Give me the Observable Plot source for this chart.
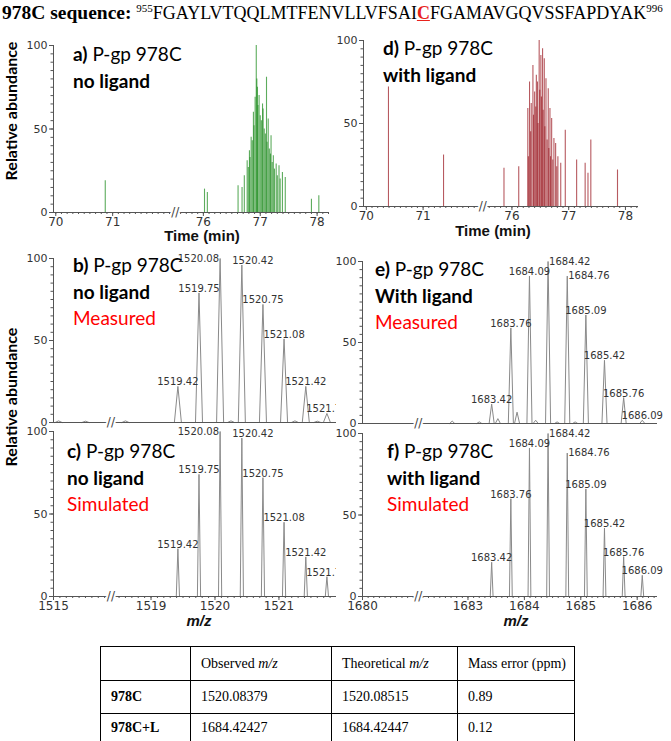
<!DOCTYPE html>
<html><head><meta charset="utf-8">
<script src="https://cdn.jsdelivr.net/npm/d3@7"></script>
<script src="https://cdn.jsdelivr.net/npm/@observablehq/plot@0.6"></script>
<style>
body{margin:0;background:#fff;}
#root{position:relative;width:671px;height:741px;overflow:hidden;background:#fff;}
.lbl{position:absolute;font-family:Lato,sans-serif;font-size:19px;line-height:26.5px;color:#000;white-space:nowrap;}
.red{color:#ff0000;}
.ylab{position:absolute;font-family:Lato,sans-serif;font-weight:bold;font-size:16px;white-space:nowrap;transform:translate(-50%,-50%) rotate(-90deg);}
#title{position:absolute;left:2px;top:2px;font-family:"Liberation Serif",serif;font-size:18px;line-height:22px;white-space:nowrap;}
#title .head{font-size:19.5px;font-weight:bold;}
#title sup{font-size:11px;line-height:0;vertical-align:7px;}
#tbl{position:absolute;border-collapse:collapse;font-family:"Liberation Serif",serif;font-size:14px;}
#tbl td{border:1.5px solid #000;padding:0 0 0 10px;text-align:left;vertical-align:middle;}
</style></head>
<body><div id="root"></div>
<script>
// ---------- DATA ----------
const seqStart = 955, seqEnd = 996;
const sequence = "FGAYLVTQQLMTFENVLLVFSAICFGAMAVGQVSSFAPDYAK";
const highlightIndex = 23;

const timeTicks = [70, 71, 76, 77, 78];
const mzTicksLow = [1515, 1519, 1520, 1521];
const mzTicksHigh = [1680, 1683, 1684, 1685, 1686];
const yTicks = [0, 50, 100];

// a) no ligand chromatogram
const chromNoLigTime = [70.87,76.02,76.07,76.61,76.68,76.72,76.77,76.79,76.81,76.82,76.84,76.86,76.88,76.89,76.91,76.93,76.94,76.95,76.96,76.98,77.00,77.02,77.04,77.05,77.07,77.09,77.11,77.12,77.14,77.16,77.18,77.19,77.21,77.23,77.25,77.28,77.30,77.33,77.35,77.39,77.44,77.90,78.03];
const chromNoLigInt  = [19,14,12,16,15,22,31,27,37,33,45,43,60,52,69,100,80,75,64,70,58,55,65,62,50,47,81,42,56,38,35,46,30,34,26,29,22,28,20,24,21,8,10];

// d) with ligand chromatogram
const chromLigTime = [70.39,71.36,75.86,76.12,76.28,76.29,76.31,76.33,76.34,76.37,76.38,76.40,76.42,76.43,76.45,76.46,76.48,76.49,76.51,76.52,76.54,76.55,76.57,76.58,76.60,76.62,76.64,76.65,76.67,76.68,76.70,76.72,76.74,76.77,76.79,76.81,76.86,76.94,77.14,77.29,77.34,77.39,77.86];
const chromLigInt  = [72,31,23,24,59,30,75,45,62,85,55,69,60,79,75,50,100,70,91,66,95,58,89,48,77,40,71,35,59,30,53,28,41,38,24,30,26,46,28,26,20,40,22];

// b) / c) no ligand isotope envelope
const mzNoLig = [1519.42,1519.75,1520.08,1520.42,1520.75,1521.08,1521.42,1521.75];
const measNoLigInt = [22,79,100,96,72,51,22,5.5];
const simNoLigInt  = [29,74,100,96,72,45,24,12];
const noiseNoLigMz  = [1515.08,1515.5,1518.6,1520.25,1521.25,1521.6];
const noiseNoLigInt = [1,0.8,1,1,1,0.8];

// e) / f) with ligand isotope envelope
const mzLig = [1683.42,1683.76,1684.09,1684.42,1684.76,1685.09,1685.42,1685.76,1686.09];
const measLigInt = [12,59,91,100,91,67,39,16,2];
const simLigInt  = [21,60,91,100,88,66,42,24.5,13];
const noiseLigMz  = [1682.72,1683.2,1683.53,1683.87,1684.2,1684.58,1684.9];
const noiseLigInt = [1.5,1,3,7,2,1,1];

// table
const tableHeader = ["", "Observed <i>m/z</i>", "Theoretical <i>m/z</i>", "Mass error (ppm)"];
const rowLabels = ["978C", "978C+L"];
const observedMz = ["1520.08379", "1684.42427"];
const theoreticalMz = ["1520.08515", "1684.42447"];
const massErrorPpm = ["0.89", "0.12"];

// ---------- LAYOUT / STYLE ----------
const root = document.getElementById("root");

function brokenAxis(L0, L1, gap, R0, R1) {
  const mid = (L1 + R0) / 2;
  const f = v => v < mid ? v - L0 : (L1 - L0) + gap + (v - R0);
  const minor = [...d3.range(Math.ceil(L0 * 10), Math.floor(L1 * 10) + 1),
                 ...d3.range(Math.ceil(R0 * 10), Math.floor(R1 * 10) + 1)].map(v => v / 10);
  return {f, max: (L1 - L0) + gap + (R1 - R0), brk: (L1 - L0) + gap / 2, minor};
}

const axCol = "#555";
function yAxisMarks() {
  return [
    Plot.ruleX([0], {y1: 0, y2: 100, stroke: axCol}),
    Plot.axisY(d3.range(0, 101, 5), {tickSize: 2.5, tickFormat: () => "", stroke: axCol, label: null}),
    Plot.axisY(yTicks, {tickSize: 4, tickPadding: 2, fontSize: 11, fontFamily: "DejaVu Sans", stroke: axCol, fill: "#333", label: null})
  ];
}
function xAxisMarks(ax, ticks, showText) {
  const m = [Plot.ruleY([0], {stroke: axCol})];
  if (showText) {
    const lab = new Map(ticks.map(t => [ax.f(t), String(t)]));
    m.push(Plot.axisX(ax.minor.map(ax.f), {tickSize: 2, tickFormat: () => "", stroke: axCol, label: null}));
    m.push(Plot.axisX(ticks.map(ax.f), {tickSize: 4, tickPadding: 1, tickFormat: v => lab.get(v), fontSize: 12, fontFamily: "DejaVu Sans", stroke: axCol, fill: "#333", label: null}));
  }
  m.push(Plot.text([ax.brk], {x: d => d, y: 0, text: () => "//", fontSize: 12, fill: "#444", stroke: "white", strokeWidth: 4}));
  return m;
}

function place(el, left, top) {
  el.style.position = "absolute"; el.style.left = left + "px"; el.style.top = top + "px";
  root.appendChild(el);
}

function chromPlot(times, ints, color, ax, o) {
  const data = times.map((t, i) => ({t, v: ints[i]}));
  const p = Plot.plot({
    width: o.width, height: o.height,
    marginLeft: o.ml, marginRight: o.mr, marginTop: o.mt, marginBottom: o.mb,
    x: {domain: [0, ax.max], axis: null, label: null},
    y: {domain: [0, 100], axis: null, label: null},
    style: {background: "transparent", overflow: "visible", fontFamily: "DejaVu Sans"},
    marks: [
      Plot.ruleX(data, {x: d => ax.f(d.t), y1: 0, y2: "v", stroke: color, strokeOpacity: 0.72, strokeWidth: 1.1}),
      ...yAxisMarks(),
      ...xAxisMarks(ax, timeTicks, true),
      Plot.text(["Time (min)"], {frameAnchor: "bottom", dx: o.tdx, dy: o.tdy, text: d => d, fontSize: 15, fontWeight: "bold", fontFamily: "Liberation Sans", fill: "#111"})
    ]
  });
  place(p, o.left, o.top);
}

const placeModes = {
  above: {textAnchor: "middle", lineAnchor: "bottom", dx: 0, dy: -1},
  left: {textAnchor: "end", lineAnchor: "middle", dx: -1, dy: 0},
  right: {textAnchor: "start", lineAnchor: "middle", dx: 1, dy: 0},
  shiftRight: {textAnchor: "middle", lineAnchor: "bottom", dx: 11, dy: -1}
};
const labelPlacementLow = {"1520.08": "left", "1520.42": "shiftRight"};
const labelPlacementHigh = {"1684.42": "right", "1684.76": "right"};

function specPlot(mz, ints, nMz, nInt, hw, ax, ticks, placement, o) {
  const prof = [];
  mz.forEach((m, i) => prof.push({m: m - hw, v: 0, id: "p" + i}, {m, v: ints[i], id: "p" + i}, {m: m + hw, v: 0, id: "p" + i}));
  nMz.forEach((m, i) => prof.push({m: m - hw, v: 0, id: "n" + i}, {m, v: nInt[i], id: "n" + i}, {m: m + hw, v: 0, id: "n" + i}));
  const peaks = mz.map((m, i) => ({m, v: ints[i], label: m.toFixed(2)}));
  const textMarks = Object.entries(placeModes).map(([mode, opt]) =>
    Plot.text(peaks.filter(d => (placement[d.label] || "above") === mode),
      {x: d => ax.f(d.m), y: "v", text: "label", fontSize: 10, fontFamily: "DejaVu Sans", fill: "#333", ...opt}));
  const marks = [
    Plot.line(prof, {x: d => ax.f(d.m), y: "v", z: "id", stroke: "#8a8a8a", strokeWidth: 1}),
    ...yAxisMarks(),
    ...xAxisMarks(ax, ticks, o.xticks),
    ...textMarks
  ];
  if (o.xticks) marks.push(Plot.text(["m/z"], {frameAnchor: "bottom", dx: o.tdx, dy: o.tdy, text: d => d, fontSize: 15, fontWeight: "bold", fontStyle: "italic", fontFamily: "Liberation Sans", fill: "#111"}));
  const p = Plot.plot({
    width: o.width, height: o.height,
    marginLeft: o.ml, marginRight: o.mr, marginTop: o.mt, marginBottom: o.mb,
    x: {domain: [0, ax.max], axis: null, label: null},
    y: {domain: [0, 100], axis: null, label: null},
    style: {background: "transparent", overflow: o.clip ? "hidden" : "visible", fontFamily: "DejaVu Sans"},
    marks
  });
  place(p, o.left, o.top);
}

function panelLabel(left, top, letter, line1, line2, line3) {
  const d = document.createElement("div");
  d.className = "lbl";
  d.innerHTML = `<b>${letter})</b> ${line1}<br><b>${line2}</b>` + (line3 ? `<br><span class="red">${line3}</span>` : "");
  place(d, left, top);
}

// ---------- BUILD ----------
const title = document.createElement("div");
title.id = "title";
title.innerHTML = `<span class="head">978C sequence: </span><sup>${seqStart}</sup>${sequence.slice(0, highlightIndex)}<b style="color:#e8221c;text-decoration:underline">${sequence[highlightIndex]}</b>${sequence.slice(highlightIndex + 1)}<sup>${seqEnd}</sup>`;
root.appendChild(title);

const axA = brokenAxis(69.96, 72.05, 0.105, 75.56, 78.2);
const axD = brokenAxis(69.95, 72.0, 0.105, 75.54, 78.23);
const axLow = brokenAxis(1515, 1515.85, 0.095, 1518.42, 1521.9);
const axHigh = brokenAxis(1680, 1680.94, 0.1, 1682.17, 1686.36);

chromPlot(chromNoLigTime, chromNoLigInt, "#1f8c1f", axA, {left: 0, top: 30, width: 335, height: 218, ml: 53, mr: 7, mt: 15, mb: 36, tdx: 11, tdy: 28});
chromPlot(chromLigTime, chromLigInt, "#9b1a22", axD, {left: 335, top: 25, width: 336, height: 215, ml: 28, mr: 33, mt: 15, mb: 34, tdx: -8, tdy: 29});

specPlot(mzNoLig, measNoLigInt, noiseNoLigMz, noiseNoLigInt, 0.055, axLow, mzTicksLow, labelPlacementLow, {left: 0, top: 245, width: 336, height: 187, ml: 53, mr: 0, mt: 13, mb: 10, xticks: false, clip: true});
specPlot(mzNoLig, simNoLigInt, [], [], 0.025, axLow, mzTicksLow, labelPlacementLow, {left: 0, top: 415, width: 336, height: 217, ml: 53, mr: 0, mt: 16, mb: 36, xticks: true, clip: true, tdx: 4, tdy: 29});
specPlot(mzLig, measLigInt, noiseLigMz, noiseLigInt, 0.045, axHigh, mzTicksHigh, labelPlacementHigh, {left: 335, top: 245, width: 336, height: 187, ml: 27, mr: 14, mt: 16, mb: 9, xticks: false});
specPlot(mzLig, simLigInt, [], [], 0.025, axHigh, mzTicksHigh, labelPlacementHigh, {left: 335, top: 415, width: 336, height: 217, ml: 27, mr: 14, mt: 18, mb: 36, xticks: true, tdx: 6, tdy: 29});

panelLabel(73, 41, "a", "P-gp 978C", "no ligand");
panelLabel(383, 35, "d", "P-gp 978C", "with ligand");
panelLabel(73, 252, "b", "P-gp 978C", "no ligand", "Measured");
panelLabel(375, 256, "e", "P-gp 978C", "With ligand", "Measured");
panelLabel(67, 438, "c", "P-gp 978C", "no ligand", "Simulated");
panelLabel(387, 438, "f", "P-gp 978C", "with ligand", "Simulated");

for (const [x, y] of [[10, 111], [10, 397]]) {
  const d = document.createElement("div");
  d.className = "ylab"; d.textContent = "Relative abundance";
  place(d, x, y);
}

const tbl = document.createElement("table");
tbl.id = "tbl";
const colW = [89, 140, 125, 116];
const rowH = [33, 32, 28];
let html = "<tr>" + tableHeader.map((h, i) => `<td style="width:${colW[i] - 10}px;height:${rowH[0]}px">${h}</td>`).join("") + "</tr>";
rowLabels.forEach((r, i) => {
  html += `<tr><td style="height:${rowH[i + 1]}px"><b>${r}</b></td><td>${observedMz[i]}</td><td>${theoreticalMz[i]}</td><td>${massErrorPpm[i]}</td></tr>`;
});
tbl.innerHTML = html;
place(tbl, 100, 646);
</script>
</body></html>
